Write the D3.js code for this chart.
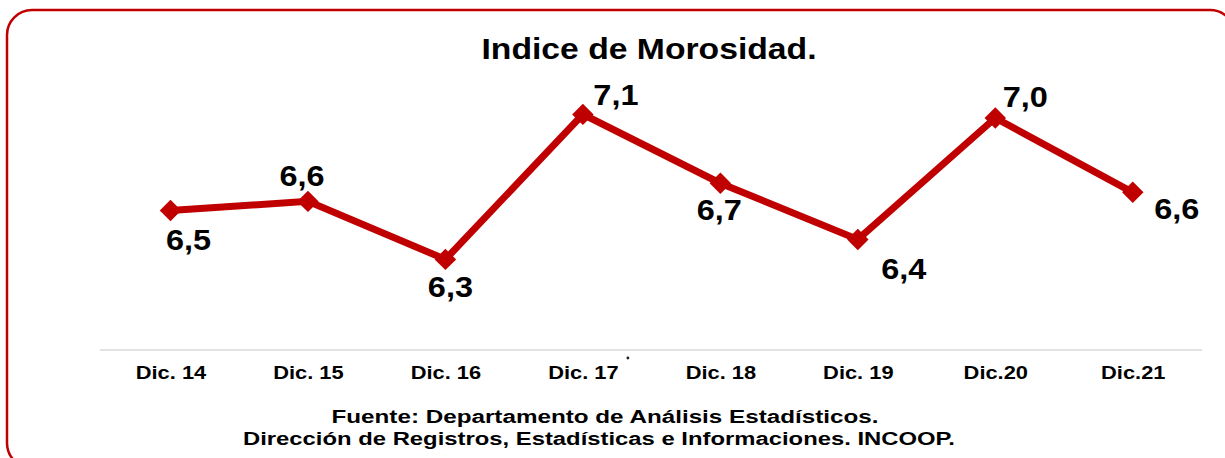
<!DOCTYPE html>
<html lang="es">

<head>
    <meta charset="utf-8"/>
    <script src="https://d3js.org/d3.v7.min.js"></script>
    <style>
        body { margin: 0; background: #ffffff; }
        text { font-family: "Liberation Sans", Arial, sans-serif; font-weight: bold; fill: #000000; }
    </style>
</head>
<body>

<script>
    // Size of the picture
    var width = 1225;
    var height = 458;
    var red = "#c00000";

    // Values of the index, and where each data label sits around its point
    var data = [
        {Periodo: "Dic. 14", Valor: 6.57, Etiqueta: "6,5", dx: 18, dy: 40},
        {Periodo: "Dic. 15", Valor: 6.62, Etiqueta: "6,6", dx: -6, dy: -15},
        {Periodo: "Dic. 16", Valor: 6.30, Etiqueta: "6,3", dx: 5, dy: 38},
        {Periodo: "Dic. 17", Valor: 7.10, Etiqueta: "7,1", dx: 33, dy: -9},
        {Periodo: "Dic. 18", Valor: 6.72, Etiqueta: "6,7", dx: -1, dy: 37},
        {Periodo: "Dic. 19", Valor: 6.41, Etiqueta: "6,4", dx: 46, dy: 40},
        {Periodo: "Dic.20", Valor: 7.08, Etiqueta: "7,0", dx: 30, dy: -11},
        {Periodo: "Dic.21", Valor: 6.67, Etiqueta: "6,6", dx: 44, dy: 27}
    ];

    var svg = d3.select("body")
        .append("svg")
        .attr("width", width)
        .attr("height", height);

    // Rounded red frame (runs off the right and bottom edges)
    svg.append("rect")
        .attr("x", 7)
        .attr("y", 10)
        .attr("width", 1228)
        .attr("height", 458)
        .attr("rx", 25)
        .attr("ry", 25)
        .style("fill", "none")
        .style("stroke", red)
        .style("stroke-width", 2.5);

    // Title
    svg.append("text")
        .attr("x", 649)
        .attr("y", 59)
        .attr("text-anchor", "middle")
        .attr("textLength", 335)
        .attr("lengthAdjust", "spacingAndGlyphs")
        .style("font-size", "30px")
        .text("Indice de Morosidad.");

    // Scales
    var x = d3.scalePoint()
        .domain(data.map(function(d) { return d.Periodo; }))
        .range([101.75, 1201.5])
        .padding(0.5);

    var y = d3.scaleLinear()
        .domain([5.8, 7.4])
        .range([350, 60]);

    // x-axis: light grey line with bold labels, no ticks
    var axis = svg.append("g")
        .attr("transform", "translate(0," + y(5.8) + ")")
        .call(d3.axisBottom(x).tickSize(0).tickPadding(0));
    axis.select(".domain")
        .attr("d", "M100,0H1202")
        .style("stroke", "#d9d9d9")
        .style("stroke-width", 1.5);
    axis.selectAll(".tick text")
        .attr("y", 0)
        .attr("dy", 0)
        .attr("transform", "translate(0,29) scale(1.15,1)")
        .style("font-family", "'Liberation Sans', Arial, sans-serif")
        .style("font-weight", "bold")
        .style("font-size", "19px")
        .style("fill", "#000");

    // small stray dot next to Dic. 17
    svg.append("circle")
        .attr("cx", x("Dic. 17") + 45)
        .attr("cy", y(5.8) + 8)
        .attr("r", 1.4)
        .style("fill", "#222");

    // The line
    var line = d3.line()
        .x(function(d) { return x(d.Periodo); })
        .y(function(d) { return y(d.Valor); });

    svg.append("path")
        .datum(data)
        .attr("d", line)
        .style("fill", "none")
        .style("stroke", red)
        .style("stroke-width", 7)
        .style("stroke-linejoin", "miter");

    // Diamond markers
    svg.selectAll("mymarker")
        .data(data)
        .enter()
        .append("path")
        .attr("d", d3.symbol(d3.symbolSquare, 230))
        .attr("transform", function(d) {
            return "translate(" + x(d.Periodo) + "," + y(d.Valor) + ") rotate(45)";
        })
        .style("fill", red);

    // Data labels
    svg.selectAll("mylabel")
        .data(data)
        .enter()
        .append("text")
        .attr("text-anchor", "middle")
        .attr("transform", function(d) {
            return "translate(" + (x(d.Periodo) + d.dx) + "," + (y(d.Valor) + d.dy) + ") scale(1.12,1)";
        })
        .style("font-size", "29px")
        .text(function(d) { return d.Etiqueta; });

    // Source notes
    svg.append("text")
        .attr("x", 605)
        .attr("y", 423)
        .attr("text-anchor", "middle")
        .attr("textLength", 547)
        .attr("lengthAdjust", "spacingAndGlyphs")
        .style("font-size", "17.5px")
        .text("Fuente: Departamento de Análisis Estadísticos.");

    svg.append("text")
        .attr("x", 599)
        .attr("y", 445)
        .attr("text-anchor", "middle")
        .attr("textLength", 712)
        .attr("lengthAdjust", "spacingAndGlyphs")
        .style("font-size", "17.5px")
        .text("Dirección de Registros, Estadísticas e Informaciones. INCOOP.");
</script>
</body>
</html>
